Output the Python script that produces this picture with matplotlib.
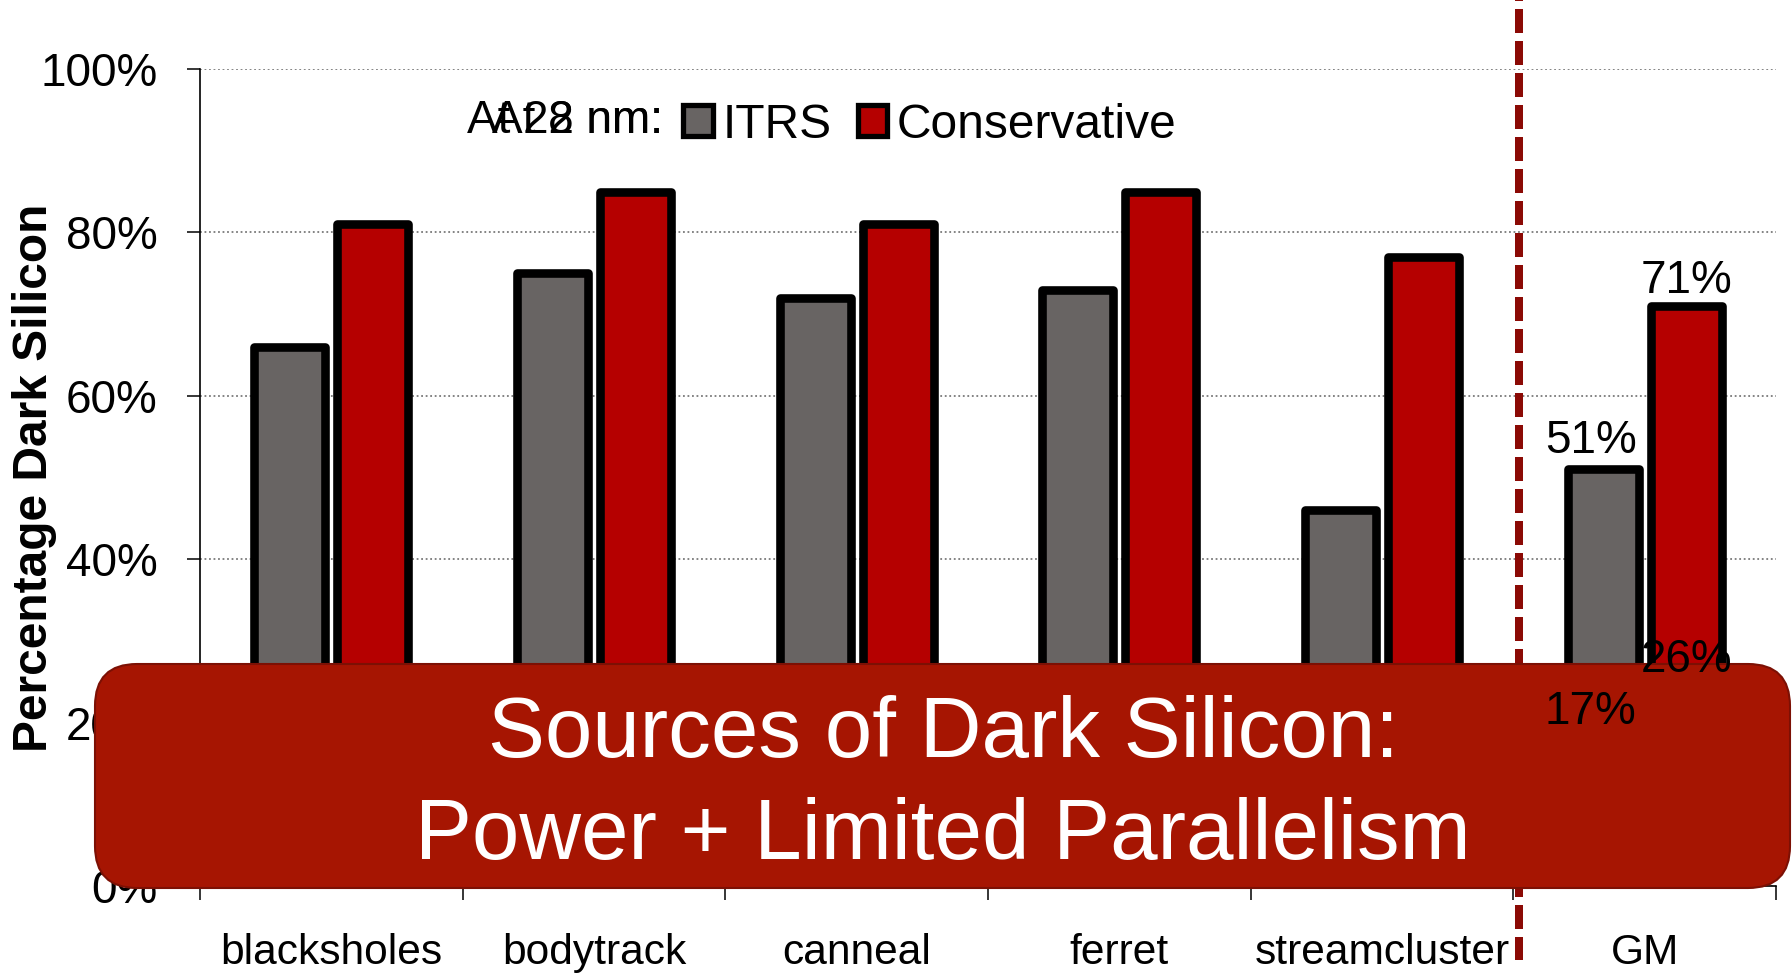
import matplotlib
matplotlib.use("Agg")
import matplotlib.pyplot as plt
import numpy as np
from matplotlib.patches import FancyBboxPatch, Patch
from matplotlib.transforms import IdentityTransform

# ---- data -------------------------------------------------------------
benchmarks = ["blacksholes", "bodytrack", "canneal", "ferret", "streamcluster", "GM"]
itrs_22nm = [66, 75, 72, 73, 46, 51]
conservative_22nm = [81, 85, 81, 85, 77, 71]
gm_itrs_8nm = 17
gm_conservative_8nm = 26
y_ticks = [0, 20, 40, 60, 80, 100]
y_tick_labels = ["0%", "20%", "40%", "60%", "80%", "100%"]
series_names = ["ITRS", "Conservative"]
node_labels = ["At 22 nm:", "At 8 nm:"]
box_lines = ["Sources of Dark Silicon:", "Power + Limited Parallelism"]

# ---- style ------------------------------------------------------------
plt.rcParams["font.family"] = ["Liberation Sans", "DejaVu Sans"]
GRAY = "#686463"
RED = "#B50000"
BOX_RED = "#A61502"
LINE_RED = "#8B0A05"

W, H, DPI = 1792, 974, 100
fig = plt.figure(figsize=(W / DPI, H / DPI), dpi=DPI)
ax = fig.add_axes([200 / W, 1 - 886 / H, 1576 / W, 817 / H])

x = np.arange(len(benchmarks))
offset = 0.158
width = 0.27
bar_kw = dict(edgecolor="black", linewidth=6.2, joinstyle="round", zorder=3)
ax.bar(x - offset, itrs_22nm, width, color=GRAY, **bar_kw)
ax.bar(x + offset, conservative_22nm, width, color=RED, **bar_kw)

ax.set_xlim(-0.5, len(benchmarks) - 0.5)
ax.set_ylim(0, 100)

# axes, ticks and grid
for side in ("top", "right"):
    ax.spines[side].set_visible(False)
ax.spines["left"].set_linewidth(1.2)
ax.spines["bottom"].set_linewidth(1.2)
ax.set_yticks(y_ticks)
ax.set_yticklabels(y_tick_labels)
ax.tick_params(axis="y", length=9.4, width=1.1, pad=21, labelsize=33)
ax.set_xticks(np.arange(-0.5, len(benchmarks), 1.0))
ax.set_xticklabels([])
ax.set_xticks(x, minor=True)
ax.set_xticklabels(benchmarks, minor=True)
ax.tick_params(axis="x", which="major", length=10, width=1.1)
ax.tick_params(axis="x", which="minor", length=0, pad=34, labelsize=30.6)
ax.yaxis.grid(True, color="#7a7a7a", linewidth=1.3, linestyle=(0, (1, 1.5)))
ax.set_axisbelow(True)

ax.set_ylabel("Percentage Dark Silicon", fontsize=34.5, fontweight="bold")
ax.yaxis.set_label_coords(-0.091, 0.5)

# divider between benchmarks and the geometric mean
ax.plot([4.52, 4.52], [1 + 69 / 817, -74 / 817], transform=ax.get_xaxis_transform(),
        color=LINE_RED, linewidth=5.76, linestyle=(2.875, (3, 1)),
        solid_capstyle="butt", dash_capstyle="butt", clip_on=False, zorder=4)

# value labels on the geometric mean
gm = x[-1]
ax.annotate(f"{itrs_22nm[-1]}%", (gm - offset, itrs_22nm[-1]), xytext=(-9, 12),
            textcoords="offset points", ha="center", va="baseline", fontsize=33, zorder=12)
ax.annotate(f"{conservative_22nm[-1]}%", (gm + offset, conservative_22nm[-1]), xytext=(0, 9.5),
            textcoords="offset points", ha="center", va="baseline", fontsize=33, zorder=12)
ax.annotate(f"{gm_itrs_8nm}%", (gm - offset, gm_itrs_8nm), xytext=(-9, 16.5),
            textcoords="offset points", ha="center", va="baseline", fontsize=33, zorder=12,
            annotation_clip=False)
ax.annotate(f"{gm_conservative_8nm}%", (gm + offset, gm_conservative_8nm), xytext=(0, 1),
            textcoords="offset points", ha="center", va="baseline", fontsize=33, zorder=12,
            annotation_clip=False)

# legend
handles = [Patch(facecolor=GRAY, edgecolor="black", linewidth=3.8, joinstyle="round"),
           Patch(facecolor=RED, edgecolor="black", linewidth=3.8, joinstyle="round")]
leg = ax.legend(handles, series_names, ncol=2, loc="center left",
                bbox_to_anchor=(683 / W, 1 - 125 / H), bbox_transform=fig.transFigure,
                frameon=False, fontsize=34.5, handlelength=0.62, handleheight=0.62,
                handletextpad=0.2, columnspacing=0.55, borderpad=0, borderaxespad=0)
leg.set_zorder(12)

for lbl in node_labels:
    fig.text(663 / W, 1 - 133 / H, lbl, ha="right", va="baseline", fontsize=33)

# callout box
box = FancyBboxPatch((95, H - 888), 1695, 224,
                     boxstyle="round,pad=0,rounding_size=42",
                     facecolor=BOX_RED, edgecolor="#7C1004", linewidth=1.5,
                     transform=IdentityTransform(), clip_on=False, zorder=10)
ax.add_patch(box)
ax.text(943 / W, 1 - 757 / H, box_lines[0], transform=fig.transFigure, ha="center",
        va="baseline", color="white", fontsize=61.5, zorder=11)
ax.text(943 / W, 1 - 859 / H, box_lines[1], transform=fig.transFigure, ha="center",
        va="baseline", color="white", fontsize=61.5, zorder=11)

fig.savefig("out.png", dpi=DPI)
